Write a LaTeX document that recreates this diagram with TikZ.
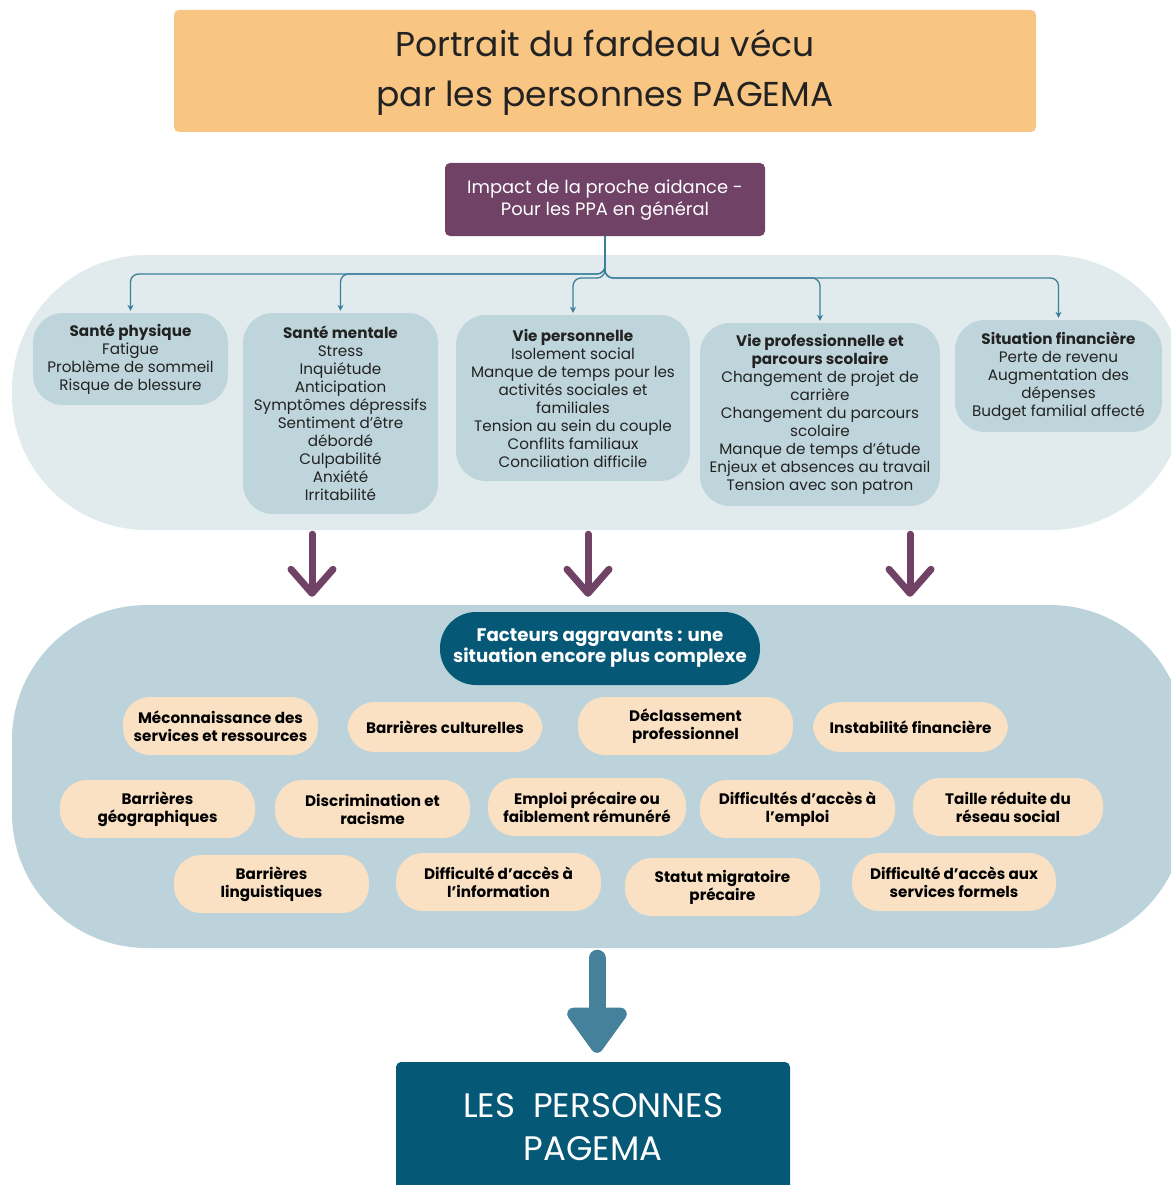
\documentclass[tikz,border=0pt]{standalone}
\usepackage{fontspec}
\setmainfont{Poppins}
\usetikzlibrary{shapes,arrows.meta,positioning,calc}

\definecolor{titleorange}{HTML}{F8C582}
\definecolor{plum}{HTML}{6F4266}
\definecolor{upperbg}{HTML}{E1EBEE}
\definecolor{lowerbg}{HTML}{BCD3DB}
\definecolor{boxbg}{HTML}{BFD5DC}
\definecolor{deepteal}{HTML}{065877}
\definecolor{peach}{HTML}{FAE1C3}
\definecolor{linkteal}{HTML}{3B7E9A}
\definecolor{flowteal}{HTML}{45819A}
\definecolor{ink}{HTML}{222222}

\begin{document}
\begin{tikzpicture}[x=1pt, y=-1pt,
        panel/.style={rectangle, rounded corners=135pt, inner sep=0pt, minimum width=1173pt},
        header/.style={rectangle, rounded corners=5pt, align=center, inner sep=0pt},
        block/.style={rectangle, fill=boxbg, rounded corners=30pt, align=center, inner sep=0pt, text=ink,
            font=\fontsize{15.2}{18}\selectfont},
        pill/.style={rectangle, fill=peach, rounded corners=27pt, align=center, inner sep=0pt, text=black,
            minimum width=195pt, minimum height=58pt, font=\bfseries\fontsize{15.2}{18}\selectfont},
        link/.style={draw=linkteal, line width=1.3pt, rounded corners=8pt, shorten >=2pt,
            -{Stealth[length=6pt,width=6pt]}},
        push/.style={draw=plum, line width=7pt, line cap=round, line join=round,
            -{Straight Barb[length=24pt,width=42pt,round]}},
        flow/.style={draw=flowteal, line width=17pt, line cap=round,
            -{Triangle[length=50pt,width=68pt,round]}}]

    \useasboundingbox (0,0) rectangle (1171,1185);
    \clip (0,0) rectangle (1171,1185);

    % background panels
    \node[panel, fill=upperbg, minimum height=275pt] (upper) at (598.5,392.5) {};
    \node[panel, fill=lowerbg, minimum height=343pt] (lower) at (598.5,776.5) {};

    % headers
    \node[header, fill=titleorange, minimum width=862pt, minimum height=122pt, text=ink,
        font=\fontsize{34.5}{50}\selectfont] (title) at (605,71)
        {\rule{0pt}{30pt}Portrait du fardeau vécu\\par les personnes PAGEMA};
    \node[header, fill=plum, minimum width=320pt, minimum height=73pt, text=white,
        font=\fontsize{17.9}{22}\selectfont] (impact) at (605,199.5)
        {\rule{0pt}{15pt}Impact de la proche aidance -\\Pour les PPA en général};

    % impact areas
    \node[block, minimum width=195pt, minimum height=92pt] (physique) at (130.5,359)
        {\textbf{Santé physique}\\Fatigue\\Problème de sommeil\\Risque de blessure};
    \node[block, minimum width=195pt, minimum height=201pt] (mentale) at (340.5,413.5)
        {\textbf{Santé mentale}\\Stress\\Inquiétude\\Anticipation\\Symptômes dépressifs\\Sentiment d’être\\débordé\\Culpabilité\\Anxiété\\Irritabilité};
    \node[block, minimum width=234pt, minimum height=166pt] (perso) at (573,398)
        {\textbf{Vie personnelle}\\Isolement social\\Manque de temps pour les\\activités sociales et\\familiales\\Tension au sein du couple\\Conflits familiaux\\Conciliation difficile};
    \node[block, minimum width=240pt, minimum height=183pt] (prof) at (820,414.5)
        {\textbf{Vie professionnelle et}\\\textbf{parcours scolaire}\\Changement de projet de\\carrière\\Changement du parcours\\scolaire\\Manque de temps d’étude\\Enjeux et absences au travail\\Tension avec son patron};
    \node[block, minimum width=207pt, minimum height=112pt] (finance) at (1058.5,376)
        {\textbf{Situation financière}\\Perte de revenu\\Augmentation des\\dépenses\\Budget familial affecté};

    \coordinate (lbus) at (0,274);
    \coordinate (rbus) at (0,278);
    \draw[link] (impact.south) |- (physique.north |- lbus) -- (physique.north);
    \draw[link] (impact.south) |- (mentale.north |- lbus) -- (mentale.north);
    \draw[link] (impact.south) |- (perso.north |- rbus) -- (perso.north);
    \draw[link] (impact.south) |- (prof.north |- rbus) -- (prof.north);
    \draw[link] (impact.south) |- (finance.north |- rbus) -- (finance.north);

    % arrows between panels
    \foreach \dx in {-286.5,-10.5,311.5}
        \draw[push] ([xshift=\dx pt, yshift=-4pt]upper.south) -- ([xshift=\dx pt, yshift=8pt]lower.north);

    % aggravating factors
    \node[rectangle, fill=deepteal, rounded corners=36pt, minimum width=320pt, minimum height=73pt,
        align=center, inner sep=0pt, text=white, font=\bfseries\fontsize{18.2}{21}\selectfont] (facteurs) at (600,648.5)
        {Facteurs aggravants : une\\situation encore plus complexe};

    \node[pill] (meconn) at (220.5,726) {Méconnaissance des\\services et ressources};
    \node[pill, minimum height=50pt] (culture) at (445,727) {Barrières culturelles};
    \node[pill, minimum width=215pt] (declass) at (685.5,726) {Déclassement\\professionnel};
    \node[pill, minimum height=50pt] (instab) at (910.5,727) {Instabilité financière};

    \node[pill] (geo) at (157.5,809) {Barrières\\géographiques};
    \node[pill] (discrim) at (372.5,809) {Discrimination et\\racisme};
    \node[pill, minimum width=198pt] (emploi) at (587,807) {Emploi précaire ou\\faiblement rémunéré};
    \node[pill] (accesemploi) at (797.5,809) {Difficultés d’accès à\\l’emploi};
    \node[pill, minimum width=190pt] (reseau) at (1008,807) {Taille réduite du\\réseau social};

    \node[pill] (lingu) at (271.5,884) {Barrières\\linguistiques};
    \node[pill, minimum width=205pt] (info) at (498.5,882) {Difficulté d’accès à\\l’information};
    \node[pill] (statut) at (722.5,887) {Statut migratoire\\précaire};
    \node[pill, minimum width=204pt] (formels) at (954,882) {Difficulté d’accès aux\\services formels};

    % result
    \node[header, fill=deepteal, minimum width=394pt, minimum height=130pt, text=white,
        font=\fontsize{34}{43}\selectfont] (pagema) at (593,1127)
        {LES\ \ PERSONNES\\PAGEMA};

    \draw[flow, shorten <=10pt, shorten >=9pt] ([xshift=4pt]lower.south -| pagema.north) -- ([xshift=4pt]pagema.north);
\end{tikzpicture}
\end{document}
